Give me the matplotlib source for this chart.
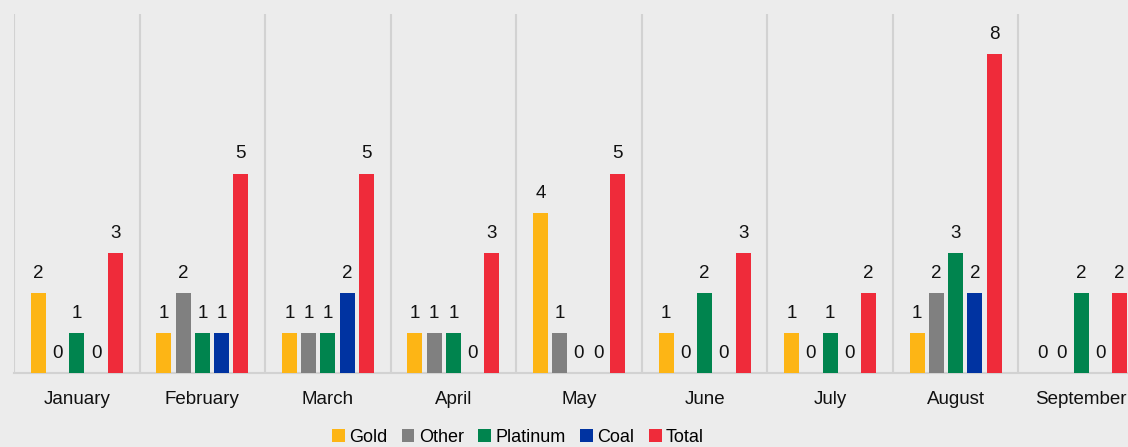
import matplotlib.pyplot as plt
import numpy as np

plt.rcParams['font.family'] = ['Liberation Sans', 'DejaVu Sans']

months = ["January", "February", "March", "April", "May", "June", "July", "August", "September"]
gold = [2, 1, 1, 1, 4, 1, 1, 1, 0]
other = [0, 2, 1, 1, 1, 0, 0, 2, 0]
platinum = [1, 1, 1, 1, 0, 2, 1, 3, 2]
coal = [0, 1, 2, 0, 0, 0, 0, 2, 0]
total = [3, 5, 5, 3, 5, 3, 2, 8, 2]

series = [("Gold", gold, "#FDB515"),
          ("Other", other, "#808080"),
          ("Platinum", platinum, "#00844E"),
          ("Coal", coal, "#0033A1"),
          ("Total", total, "#EF2B3A")]

bg = "#ECECEC"
fig = plt.figure(figsize=(11.28, 4.47), dpi=100, facecolor=bg)
# axes runs past the right edge, like the original (September is cut off)
ax = fig.add_axes([14 / 1128, 74 / 447, 1130 / 1128, 359 / 447])
ax.set_facecolor(bg)

x = np.arange(len(months))
step = 0.1533
width = 0.119
for i, (name, vals, col) in enumerate(series):
    pos = x + (i - 2) * step
    ax.bar(pos, vals, width, color=col, label=name, zorder=3)
    for xp, v in zip(pos, vals):
        ax.annotate(str(v), (xp, v), xytext=(0, 8), textcoords="offset points",
                    ha="center", va="bottom", fontsize=13.5, color="#111111")

# vertical separators between months
for b in np.arange(-0.5, len(months), 1.0):
    ax.axvline(b, color="#D2D2D2", lw=1.5, zorder=1)

ax.set_xlim(-0.5, len(months) - 0.5)
ax.set_ylim(0, 9)
ax.set_xticks(x)
ax.set_xticklabels(months, fontsize=13.5, color="#111111")
ax.tick_params(axis="x", length=0, pad=13)
ax.set_yticks([])
for s in ["top", "left", "right"]:
    ax.spines[s].set_visible(False)
ax.spines["bottom"].set_color("#D2D2D2")
ax.spines["bottom"].set_linewidth(1.5)

fig.legend(loc="center", bbox_to_anchor=(518 / 1128, 9.5 / 447), ncol=5, frameon=False,
           fontsize=13, handlelength=0.7, handleheight=0.7, handletextpad=0.25,
           columnspacing=0.8, borderaxespad=0)

plt.savefig("out.png", dpi=100, facecolor=bg)
